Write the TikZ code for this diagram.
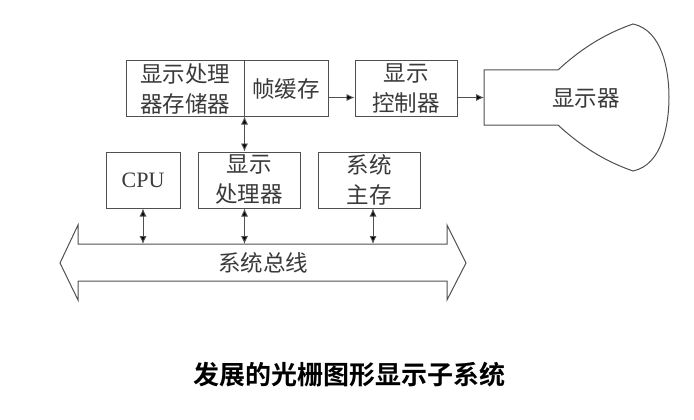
\documentclass[tikz,border=0pt]{standalone}
\usepackage{fontspec}
\usetikzlibrary{arrows.meta}
\newfontfamily\cjk{Noto Sans CJK SC}
\newfontfamily\cjkbold{Noto Sans CJK SC Bold}
\newfontfamily\tms{Liberation Serif}
\definecolor{ln}{HTML}{505050}
\definecolor{tx}{HTML}{3A3A3A}
\begin{document}
\begin{tikzpicture}[x=1pt,y=-1pt,
  box/.style={draw=ln,line width=1pt,minimum height=55pt,inner sep=0pt,text=tx,
    font=\cjk\fontsize{22.5}{30}\selectfont,align=center},
  arr/.style={draw=ln,line width=0.9pt,-{Latex[length=8pt,width=7pt,fill=black]}},
  darr/.style={draw=ln,line width=0.9pt,{Latex[length=8pt,width=7pt,fill=black]}-{Latex[length=8pt,width=7pt,fill=black]}}]
\useasboundingbox (0,0) rectangle (694,420);
\coordinate (lvl) at (0,97.5);
\coordinate (bustop) at (0,244);
% top row
\node[box,minimum width=118pt] (psm) at (185,88.5) {显示处理\\器存储器};
\node[box,minimum width=84pt] (fb) at (286,88.5) {帧缓存};
\node[box,minimum width=102pt] (ctrl) at (406,88.5) {显示\\控制器};
% display
\draw[ln,line width=1pt,fill=white] (484,70) -- (558,70)
  .. controls (585,45) and (610,32) .. (633,24)
  .. controls (662,30) and (669,70) .. (669,97)
  .. controls (669,125) and (662,165) .. (633,171)
  .. controls (610,163) and (585,150) .. (558,125)
  -- (484,125) -- cycle;
\coordinate (dispin) at (484,97.5);
\node[text=tx,font=\cjk\fontsize{22.5}{30}\selectfont] (disp) at (586,98) {显示器};
% middle row
\node[box,minimum width=74pt,minimum height=56pt,font=\tms\fontsize{22}{26}\selectfont] (cpu) at (143,180) {CPU};
\node[box,minimum width=102pt,minimum height=56pt] (dp) at (249,180) {显示\\处理器};
\node[box,minimum width=102pt,minimum height=56pt] (mm) at (369,180) {系统\\主存};
% bus
\draw[ln,line width=1pt] (60,263) -- (78,225) -- (78,244) -- (447,244) -- (447,225)
  -- (466,263) -- (447,300) -- (447,281) -- (78,281) -- (78,300) -- cycle;
\node[text=tx,font=\cjk\fontsize{22.5}{30}\selectfont] (bus) at (263,263) {系统总线};
% connectors
\draw[arr] (fb.east |- lvl) -- (ctrl.west |- lvl);
\draw[arr] (ctrl.east |- lvl) -- (dispin);
\draw[darr] (psm.south east) -- (dp.north -| psm.south east);
\draw[darr] (cpu.south) -- (cpu.south |- bustop);
\draw[darr] (dp.south -| psm.south east) -- (psm.south east |- bustop);
\draw[darr] ([xshift=4pt]mm.south) -- ([xshift=4pt]mm.south |- bustop);
% caption
\node[font=\cjkbold\fontsize{26}{30}\selectfont] (cap) at (349,375) {发展的光栅图形显示子系统};
\end{tikzpicture}
\end{document}
